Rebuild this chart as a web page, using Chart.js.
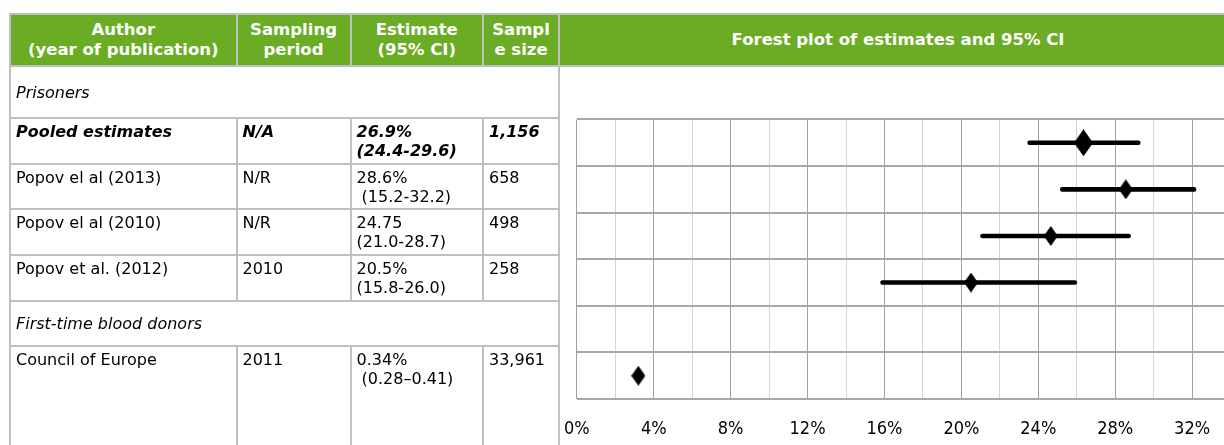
<!DOCTYPE html>
<html>
<head>
<meta charset="utf-8">
<script src="https://cdn.jsdelivr.net/npm/chart.js@4.4.1/dist/chart.umd.min.js"></script>
<style>
  html, body { margin:0; padding:0; background:#fff; }
  body { width:1224px; height:445px; overflow:hidden; position:relative; font-family:"DejaVu Sans", Verdana, sans-serif; }
  #page { position:absolute; left:0; top:0; width:1320px; height:445px; }
  .ln { position:absolute; background:#c0c0c0; }
  .hd { position:absolute; color:#fff; font-weight:bold; font-size:16.5px; line-height:20px; text-align:center; display:flex; align-items:center; justify-content:center; }
  .cell { position:absolute; font-size:16px; line-height:19px; color:#000; overflow:hidden; white-space:pre; box-sizing:border-box; padding:3px 0 0 5px; }
  .grp { position:absolute; font-size:16px; font-style:italic; color:#000; display:flex; align-items:center; padding-left:5px; box-sizing:border-box; }
  #chartBox { position:absolute; left:544px; top:67px; width:763px; height:378px; }
</style>
</head>
<body>
<div id="page">
  <div id="chartBox"><canvas id="c" width="763" height="378"></canvas></div>
</div>
<script>
// ---------- data ----------
const headerLabels = ['Author\n(year of publication)', 'Sampling\nperiod', 'Estimate\n(95% CI)', 'Sampl\ne size', 'Forest plot of estimates and 95% CI'];
const groupLabels = ['Prisoners', 'First-time blood donors'];
const studyNames = ['Pooled estimates', 'Popov el al (2013)', 'Popov el al (2010)', 'Popov et al. (2012)', 'Council of Europe'];
const samplingPeriods = ['N/A', 'N/R', 'N/R', '2010', '2011'];
const estimateLabels = ['26.9%', '28.6%', '24.75', '20.5%', '0.34%'];
const ciLabels = ['(24.4-29.6)', ' (15.2-32.2)', '(21.0-28.7)', '(15.8-26.0)', ' (0.28\u20130.41)'];
const sampleSizes = ['1,156', '658', '498', '258', '33,961'];

// forest plot rows (one per table row below the first group heading)
const plotRows = ['Pooled estimates', 'Popov el al (2013)', 'Popov el al (2010)', 'Popov et al. (2012)', 'First-time blood donors', 'Council of Europe'];
const plotEstimates = [26.35, 28.55, 24.65, 20.5, null, 3.2];
const plotLower = [23.45, 25.15, 21.0, 15.8, null, null];
const plotUpper = [29.3, 32.2, 28.8, 26.0, null, null];
const pooledFlags = [true, false, false, false, false, false];
const xTickStep = 2;
const xLabelEvery = 4;
const xMin = 0, xMax = 36;

// ---------- table layout ----------
const page = document.getElementById('page');
function rect(x, y, w, h, cls, color) {
  const d = document.createElement('div');
  d.className = cls || 'ln';
  d.style.left = x + 'px'; d.style.top = y + 'px';
  d.style.width = w + 'px'; d.style.height = h + 'px';
  if (color) d.style.background = color;
  page.appendChild(d);
  return d;
}
const colX = [9, 235.5, 349.5, 482, 558];   // vertical rule positions (2px wide)
const tableRight = 1320;
const rowY = [117, 162.5, 208, 253.5, 299.5, 345]; // horizontal rules in table part

// header
rect(10, 15, tableRight - 10, 50, 'ln', '#6aad24');
rect(colX[0], 13, tableRight - colX[0], 2);
rect(colX[0], 65, tableRight - colX[0], 2);
colX.forEach(x => rect(x, 13, 2, 54));
const hdBounds = [[colX[0] + 2, colX[1]], [colX[1] + 2, colX[2]], [colX[2] + 2, colX[3]], [colX[3] + 2, colX[4]], [colX[4] + 2, 1236]];
headerLabels.forEach((t, i) => {
  const d = rect(hdBounds[i][0], 15, hdBounds[i][1] - hdBounds[i][0], 50, 'hd');
  d.style.background = 'transparent';
  d.innerHTML = t.split('\n').map(s => '<div>' + s + '</div>').join('');
  d.style.flexDirection = 'column';
});

// body rules
rect(colX[0], 67, 2, 445 - 67);        // left edge
rect(colX[4], 67, 2, 445 - 67);        // chart column edge
rowY.forEach(y => rect(colX[0], y, colX[4] - colX[0], 2));
const studyRowSpans = [[rowY[0], rowY[4]], [rowY[5], 445]];
studyRowSpans.forEach(([a, b]) => {
  [colX[1], colX[2], colX[3]].forEach(x => rect(x, a, 2, b - a));
});

// group headings
const groupTops = [67, rowY[4] + 2];
const groupBottoms = [rowY[0], rowY[5]];
groupLabels.forEach((g, i) => {
  const d = rect(colX[0] + 2, groupTops[i], colX[4] - colX[0] - 2, groupBottoms[i] - groupTops[i], 'grp');
  d.style.background = 'transparent';
  d.textContent = g;
});

// study rows
const studyTops = [rowY[0], rowY[1], rowY[2], rowY[3], rowY[5]];
const studyBottoms = [rowY[1], rowY[2], rowY[3], rowY[4], 445];
studyNames.forEach((name, i) => {
  const cols = [name, samplingPeriods[i], estimateLabels[i] + '\n' + ciLabels[i], sampleSizes[i]];
  cols.forEach((txt, c) => {
    const x = colX[c] + 2;
    const d = rect(x, studyTops[i] + 2, colX[c + 1] - x, studyBottoms[i] - studyTops[i] - 2, 'cell');
    d.style.background = 'transparent';
    d.textContent = txt;
    if (pooledFlags[i]) { d.style.fontWeight = 'bold'; d.style.fontStyle = 'italic'; }
  });
});

// ---------- forest plot ----------
function diamond(w, h) {
  const cv = document.createElement('canvas');
  cv.width = w; cv.height = h;
  const g = cv.getContext('2d');
  g.fillStyle = '#000';
  g.beginPath();
  g.moveTo(w / 2, 0); g.lineTo(w, h / 2); g.lineTo(w / 2, h); g.lineTo(0, h / 2); g.closePath();
  g.fill();
  return cv;
}
const bigDiamond = diamond(19, 27);
const smallDiamond = diamond(14, 20);

const points = [];
const pointStyles = [];
plotRows.forEach((r, i) => {
  if (plotEstimates[i] != null) {
    points.push({ x: plotEstimates[i], y: r });
    pointStyles.push(pooledFlags[i] ? bigDiamond : smallDiamond);
  }
});
const ciBars = plotRows.map((r, i) => plotLower[i] == null ? null : [plotLower[i], plotUpper[i]]);

new Chart(document.getElementById('c'), {
  type: 'bar',
  data: {
    labels: plotRows,
    datasets: [
      { type: 'bar', data: ciBars, backgroundColor: '#000', barThickness: 4, borderRadius: 2, borderSkipped: false, order: 2 },
      { type: 'line', data: points, showLine: false, pointStyle: pointStyles, pointRadius: 10, pointBackgroundColor: '#000', pointBorderWidth: 0, order: 1 }
    ]
  },
  options: {
    indexAxis: 'y',
    responsive: false,
    animation: false,
    events: [],
    plugins: { legend: { display: false }, tooltip: { enabled: false } },
    layout: { padding: { left: 0, top: 52.5, right: 27, bottom: 0 } },
    scales: {
      x: {
        type: 'linear', min: xMin, max: xMax,
        ticks: {
          stepSize: xTickStep, autoSkip: false, maxRotation: 0, minRotation: 0, padding: 20,
          color: '#000',
          font: { family: '"DejaVu Sans Condensed", "Liberation Sans Narrow", "DejaVu Sans", sans-serif', size: 18 },
          callback: v => (v % xLabelEvery === 0 ? v + '%' : '')
        },
        grid: { drawTicks: false, lineWidth: 1, color: c => (c.tick && c.tick.value % xLabelEvery === 0 ? '#a0a0a0' : '#d4d4d4') },
        border: { display: false },
        afterFit: s => { s.height = 46; }
      },
      y: {
        ticks: { display: false },
        grid: { offset: true, drawTicks: false, color: '#a8a8a8', lineWidth: 2 },
        border: { display: false },
        afterFit: s => { s.width = 0; }
      }
    }
  }
});
</script>
</body>
</html>
